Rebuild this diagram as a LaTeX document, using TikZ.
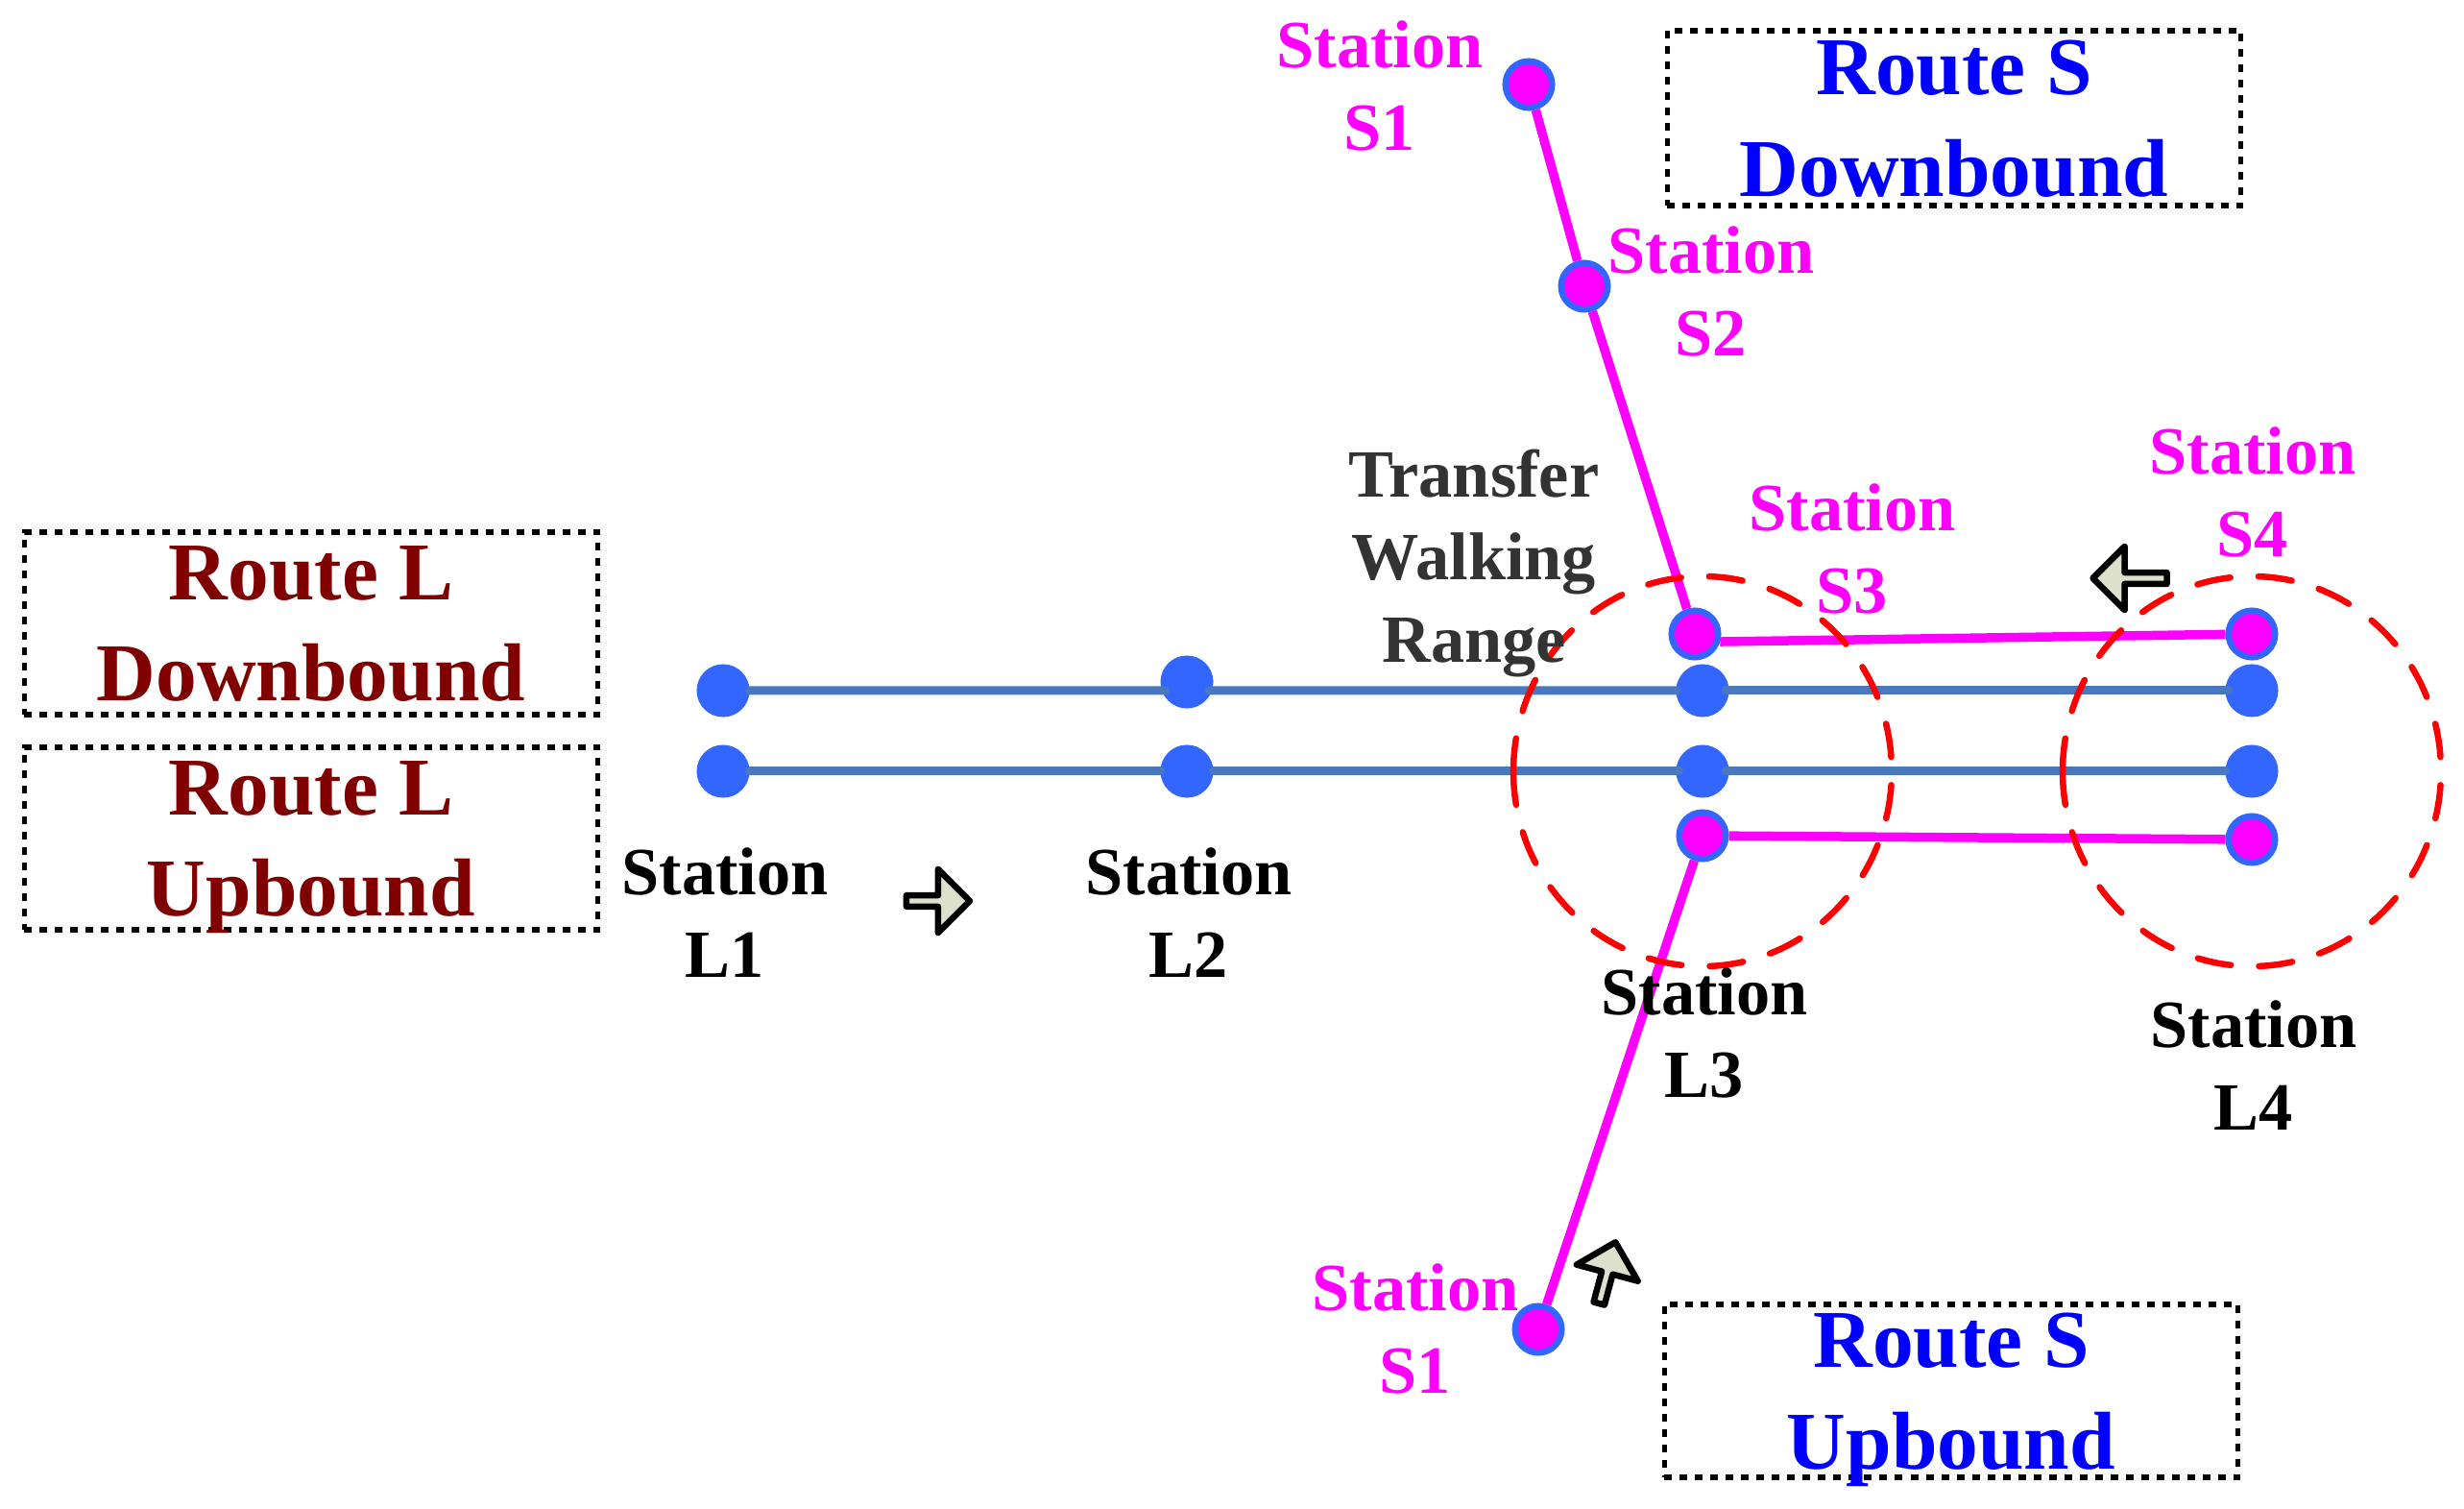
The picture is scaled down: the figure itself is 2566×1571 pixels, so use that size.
\documentclass[tikz,border=0pt]{standalone}
\usepackage{fontspec}
\setmainfont{Liberation Serif}
\usetikzlibrary{shapes.arrows}
\definecolor{routeblue}{HTML}{4A78BE}
\definecolor{stopblue}{HTML}{3366FF}
\definecolor{routered}{HTML}{800000}
\definecolor{arrowfill}{HTML}{DDE1CC}
\definecolor{walkgray}{HTML}{333333}
\definecolor{stopmagenta}{HTML}{FF00FF}
\definecolor{walkred}{HTML}{FF0000}
\definecolor{routetext}{HTML}{0000FF}
\tikzset{
	stop/.style={circle,draw=stopblue,line width=0.065cm,minimum size=0.485cm,inner sep=0pt},
	label20/.style={align=center,inner sep=0pt,text depth=0pt,font=\fontsize{20}{24.4}\selectfont\bfseries},
	routebox/.style={draw,line width=0.055cm,dash pattern=on 0.08cm off 0.08cm,align=center,inner sep=0pt,text depth=0pt,minimum width=5.97cm,font=\fontsize{24.3}{30}\selectfont\bfseries},
	dirarrow/.style={single arrow,draw,fill=arrowfill,line width=0.065cm,line join=round,inner sep=0pt,minimum height=0.66cm,minimum width=0.66cm,single arrow head extend=0.15cm,single arrow head indent=0pt},
	lineL/.style={routeblue,line width=0.09cm,line cap=round},
	lineS/.style={stopmagenta,line width=0.095cm},
	walk/.style={walkred,line width=0.065cm,line cap=round,dash pattern=on 0.35cm off 0.293cm}
}
\begin{document}
\begin{tikzpicture}[x=0.01cm,y=-0.01cm]
	\useasboundingbox (0,0) rectangle (2566,1571);
	
	%STOPS
	\foreach \w/\x/\y in {Lone1/753/719,Ltwo1/1236/710,Lthree1/1773/719,Lfour1/2345/719,Lone2/753/803,Ltwo2/1236/803,Lthree2/1773/803,Lfour2/2345/803}
		\node[stop,fill=stopblue] (\w) at (\x,\y) {};
	\foreach \w/\x/\y in {Sone1/1592/88,Stwo1/1650/298,Sthree1/1765/660,Sfour1/2345/660,Sthree2/1773/870,Sfour2/2345/874,Sone2/1602/1384}
		\node[stop,fill=stopmagenta] (\w) at (\x,\y) {};
	
	%LINES
	\draw[lineL,shorten >=-0.04cm] (Lone1)--(Ltwo1.199.5);
	\draw[lineL,shorten <=-0.03cm] (Ltwo1.-19.5)--(Lthree1);
	\draw[lineL,shorten <=-0.03cm,shorten >=-0.03cm] (Lthree1)--(Lfour1);
	\draw[lineL] (Lone2)--(Ltwo2);
	\draw[lineL,shorten >=-0.03cm] (Ltwo2)--(Lthree2);
	\draw[lineL,shorten <=-0.03cm] (Lthree2)--(Lfour2);
	\draw[lineS] (Sone1)--(Stwo1);
	\draw[lineS] (Stwo1)--(Sthree1);
	\draw[lineS] (Sthree1.-17)--(Sfour1);
	\draw[lineS] (Sthree2)--(Sfour2);
	\draw[lineS] (Sthree2)--(Sone2);
	
	%WALKING RANGE
	\coordinate (walkLeft) at (1576,803);
	\coordinate (walkRight) at (2148,803);
	\foreach \w in {walkLeft,walkRight} \draw[walk] (\w) arc [start angle=180,end angle=-180,x radius=197,y radius=203];
	
	%DIRECTION ARROWS
	\node[dirarrow] (arrowL) at (974,938) {};
	\node[dirarrow,rotate=180,minimum height=0.77cm] (arrowS1) at (2221,602) {};
	\node[dirarrow,rotate=75] (arrowS2) at (1673,1328) {};
	
	%BOXES
	\node[routebox,minimum height=1.9cm,text=routered] (boxLd) at (324,649) {Route L\\Downbound};
	\node[routebox,minimum height=1.9cm,text=routered] (boxLu) at (324,873) {Route L\\Upbound};
	\node[routebox,minimum height=1.82cm,text=routetext] (boxSd) at (2035,123) {Route S\\Downbound};
	\node[routebox,minimum height=1.8cm,text=routetext] (boxSu) at (2032,1448) {Route S\\Upbound};
	
	%LABELS
	\node[label20] (nameL1) at (755,950) {Station\\L1};
	\node[label20] (nameL2) at (1238,950) {Station\\L2};
	\node[label20] (nameL3) at (1775,1075) {Station\\L3};
	\node[label20] (nameL4) at (2347,1109) {Station\\L4};
	\node[label20,text=stopmagenta] (nameS1) at (1437,89) {Station\\S1};
	\node[label20,text=stopmagenta] (nameS2) at (1782,303) {Station\\S2};
	\node[label20,text=stopmagenta] (nameS3) at (1929,571) {Station\\S3};
	\node[label20,text=stopmagenta] (nameS4) at (2346,512) {Station\\S4};
	\node[label20,text=stopmagenta] (nameS1b) at (1474,1383) {Station\\S1};
	\node[label20,text=walkgray] (nameWalk) at (1535,579) {Transfer\\Walking\\Range};
\end{tikzpicture}
\end{document}
